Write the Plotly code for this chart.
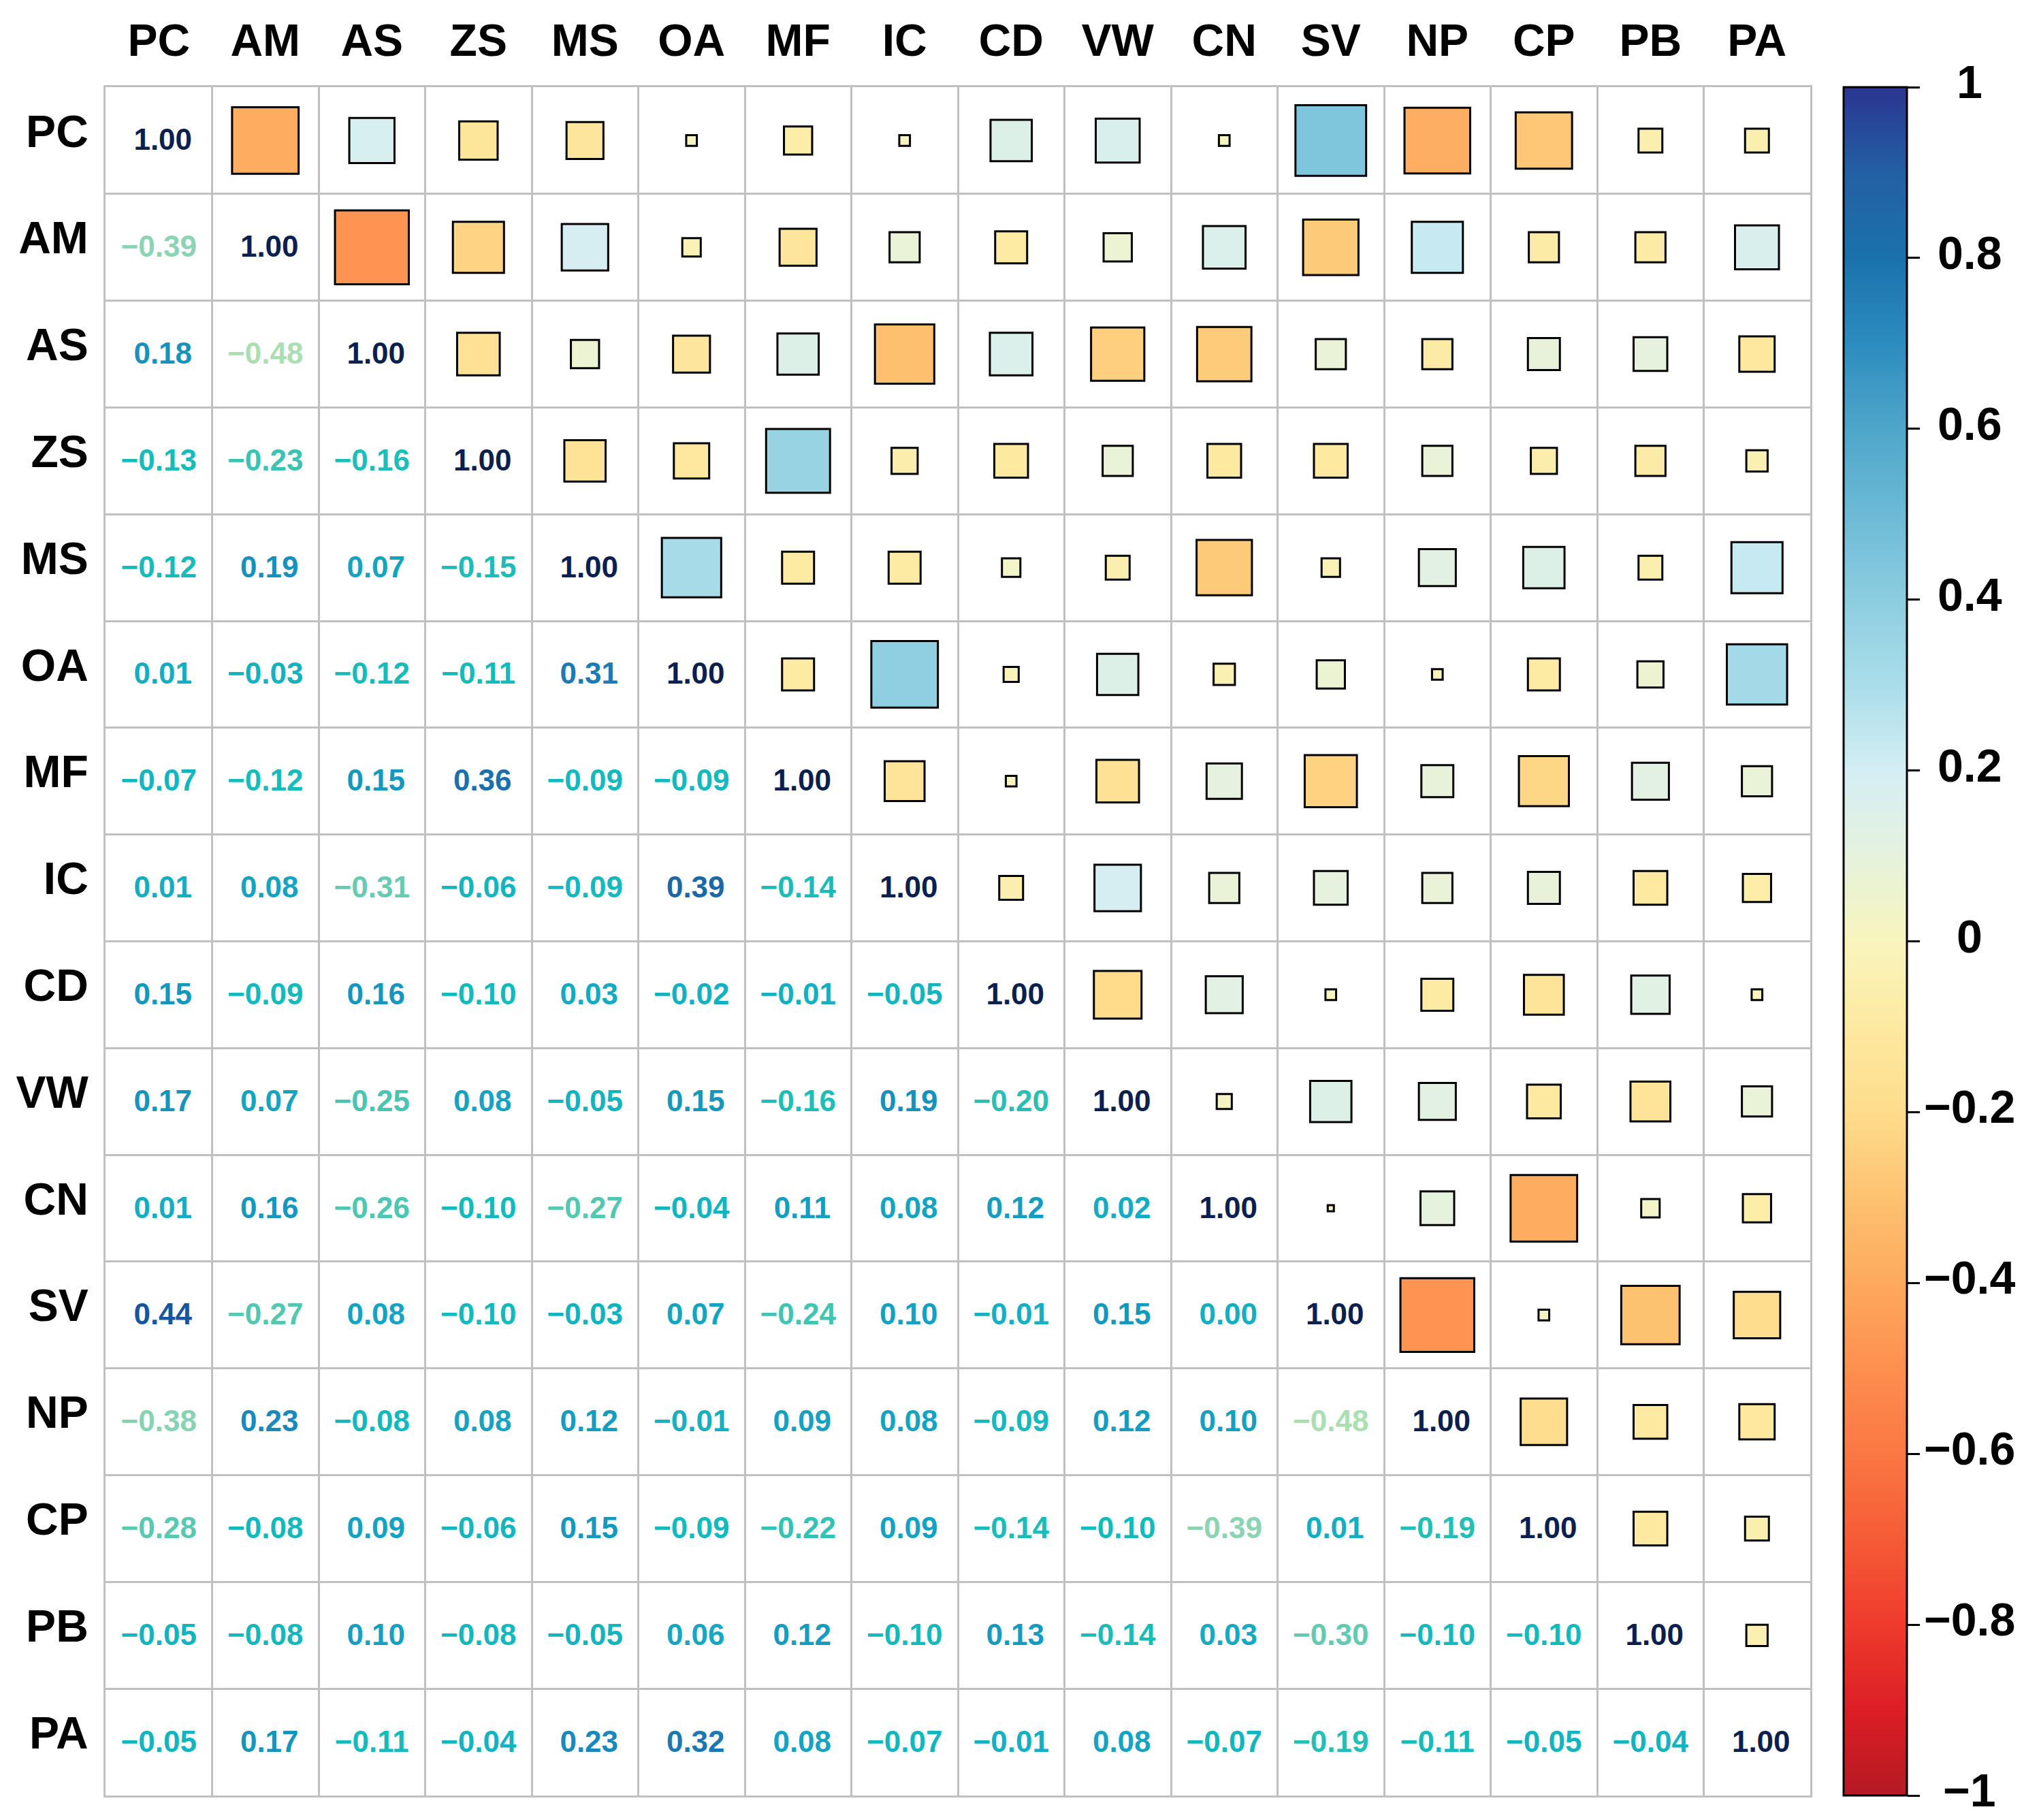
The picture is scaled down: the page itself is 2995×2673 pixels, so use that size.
import numpy as np
import plotly.graph_objects as go
from plotly.colors import sample_colorscale

labels = ["PC", "AM", "AS", "ZS", "MS", "OA", "MF", "IC", "CD", "VW", "CN", "SV", "NP", "CP", "PB", "PA"]

# lower-triangle correlations, row by row (row i lists columns 0..i-1)
r_AM = [-0.39]
r_AS = [0.18, -0.48]
r_ZS = [-0.13, -0.23, -0.16]
r_MS = [-0.12, 0.19, 0.07, -0.15]
r_OA = [0.01, -0.03, -0.12, -0.11, 0.31]
r_MF = [-0.07, -0.12, 0.15, 0.36, -0.09, -0.09]
r_IC = [0.01, 0.08, -0.31, -0.06, -0.09, 0.39, -0.14]
r_CD = [0.15, -0.09, 0.16, -0.10, 0.03, -0.02, -0.01, -0.05]
r_VW = [0.17, 0.07, -0.25, 0.08, -0.05, 0.15, -0.16, 0.19, -0.20]
r_CN = [0.01, 0.16, -0.26, -0.10, -0.27, -0.04, 0.11, 0.08, 0.12, 0.02]
r_SV = [0.44, -0.27, 0.08, -0.10, -0.03, 0.07, -0.24, 0.10, -0.01, 0.15, 0.00]
r_NP = [-0.38, 0.23, -0.08, 0.08, 0.12, -0.01, 0.09, 0.08, -0.09, 0.12, 0.10, -0.48]
r_CP = [-0.28, -0.08, 0.09, -0.06, 0.15, -0.09, -0.22, 0.09, -0.14, -0.10, -0.39, 0.01, -0.19]
r_PB = [-0.05, -0.08, 0.10, -0.08, -0.05, 0.06, 0.12, -0.10, 0.13, -0.14, 0.03, -0.30, -0.10, -0.10]
r_PA = [-0.05, 0.17, -0.11, -0.04, 0.23, 0.32, 0.08, -0.07, -0.01, 0.08, -0.07, -0.19, -0.11, -0.05, -0.04]

lower_rows = [[], r_AM, r_AS, r_ZS, r_MS, r_OA, r_MF, r_IC, r_CD, r_VW, r_CN,
              r_SV, r_NP, r_CP, r_PB, r_PA]

cbar_ticks = [-1, -0.8, -0.6, -0.4, -0.2, 0, 0.2, 0.4, 0.6, 0.8, 1]
cbar_ticktext = ["\u22121", "\u22120.8", "\u22120.6", "\u22120.4", "\u22120.2", "0",
                 "0.2", "0.4", "0.6", "0.8", "1"]

n = len(labels)
M = np.eye(n)
for i, row in enumerate(lower_rows):
    for j, v in enumerate(row):
        M[i, j] = v
        M[j, i] = v

# ---- styles ----
square_scale = [
    [0.00, "#b51a24"], [0.05, "#dc1e25"], [0.10, "#ef3b2c"], [0.15, "#f55b36"],
    [0.20, "#fb7742"], [0.25, "#fd8f4f"], [0.30, "#fda95e"], [0.35, "#fdc270"],
    [0.40, "#fedc8c"], [0.45, "#fde9a0"], [0.50, "#f8f5bd"], [0.55, "#e6f2dd"],
    [0.60, "#d4eef4"], [0.65, "#aadde9"], [0.70, "#8ccde0"], [0.75, "#6cbad6"],
    [0.80, "#4ea6c9"], [0.85, "#2d8cbf"], [0.90, "#1a72ad"], [0.95, "#2360a4"],
    [1.00, "#2b3592"],
]
text_scale = [
    [0.000, "#c8ebbd"], [0.260, "#a9dfb1"], [0.305, "#8bd4b3"], [0.365, "#52c8b0"],
    [0.405, "#22bfb6"], [0.450, "#10bbbd"], [0.500, "#12afc3"], [0.550, "#12a1c2"],
    [0.585, "#1495bd"], [0.615, "#1889bd"], [0.660, "#1a79b4"], [0.695, "#1a68a8"],
    [0.720, "#1457a0"], [1.000, "#0b1f50"],
]

W, H = 2995, 2673
OFF = 8  # default page body margin shifts the figure by 8px
L, T = 155 - OFF, 128 - OFF
PW, PH = 2504, 2509
R, B = W - L - PW, H - T - PH
cell_px = PW / n
cell_py = PH / n
POS_SHIFT_PX = 6   # non-negative numbers sit slightly right of centre
TEXT_DOWN_PX = 3   # numbers sit slightly low in their cells
FONT = "Liberation Sans, Arial, sans-serif"

# upper triangle squares
sx, sy, sv = [], [], []
for i in range(n):
    for j in range(i + 1, n):
        sx.append(j)
        sy.append(i)
        sv.append(M[i, j])
sv = np.array(sv)
sizes = np.maximum(np.sqrt(np.abs(sv)) * cell_px, 9)

# lower triangle + diagonal numbers, split by sign
groups = {"neg": ([], [], [], []), "pos": ([], [], [], [])}
for i in range(n):
    for j in range(i + 1):
        v = M[i, j]
        g = groups["neg" if v < 0 else "pos"]
        s = f"{abs(v):.2f}"
        g[0].append(j)
        g[1].append(i)
        g[2].append(("\u2212" + s) if v < 0 else s)
        g[3].append(sample_colorscale(text_scale, [(v + 1) / 2])[0])

fig = go.Figure()
fig.add_trace(go.Scatter(
    x=sx, y=sy, mode="markers", hoverinfo="skip", showlegend=False,
    marker=dict(symbol="square", size=sizes, color=sv, cmin=-1, cmax=1, opacity=1,
                colorscale=square_scale, line=dict(color="black", width=3),
                showscale=True,
                colorbar=dict(
                    x=(2708 - OFF - L) / PW, xanchor="left", xpad=0,
                    y=1, yanchor="top", len=1, lenmode="fraction", ypad=0,
                    thickness=93, thicknessmode="pixels",
                    outlinecolor="black", outlinewidth=3,
                    tickmode="array", tickvals=cbar_ticks, showticklabels=False,
                    ticks="outside", ticklen=18, tickwidth=3, tickcolor="black",
                ))))
for key, xa in (("neg", "x"), ("pos", "x2")):
    gx, gy, gt, gc = groups[key]
    fig.add_trace(go.Scatter(
        x=gx, y=gy, mode="text", text=gt, hoverinfo="skip", showlegend=False,
        textposition="middle center", xaxis=xa, yaxis="y2",
        textfont=dict(family=FONT, size=44, color=gc, weight="bold")))

# colorbar tick labels (centred, as in the reference)
for v, t in zip(cbar_ticks, cbar_ticktext):
    fig.add_annotation(
        xref="paper", yref="paper", x=(2893 - OFF - L) / PW, y=(v + 1) / 2,
        text=t, showarrow=False, xanchor="center", yanchor="middle", yshift=8,
        font=dict(family=FONT, size=68, color="black", weight="bold"))

grid_vals = [k - 0.5 for k in range(n + 1)]
axis_common = dict(
    tickmode="array", tickvals=list(range(n)), ticktext=labels,
    showgrid=False, zeroline=False, ticks="",
    tickfont=dict(family=FONT, size=66, color="black", weight="bold"),
    showline=True, linecolor="#c0c0c0", linewidth=3, mirror=True,
    minor=dict(tickmode="array", tickvals=grid_vals, showgrid=True,
               gridcolor="#c0c0c0", gridwidth=3, ticks=""),
)
fig.update_xaxes(**axis_common, range=[-0.5, n - 0.5], side="top", ticklabelstandoff=17)
fig.update_yaxes(**axis_common, range=[n - 0.5, -0.5], ticklabelstandoff=9, ticklabelshift=14)
dx = POS_SHIFT_PX / cell_px
dy = TEXT_DOWN_PX / cell_py
fig.update_layout(
    xaxis2=dict(overlaying="x", range=[-0.5 - dx, n - 0.5 - dx], visible=False),
    yaxis2=dict(overlaying="y", range=[n - 0.5 - dy, -0.5 - dy], visible=False),
)

fig.update_layout(
    width=W, height=H, margin=dict(l=L, r=R, t=T, b=B, autoexpand=False),
    paper_bgcolor="white", plot_bgcolor="white", showlegend=False,
)
fig.write_html("out.html")
